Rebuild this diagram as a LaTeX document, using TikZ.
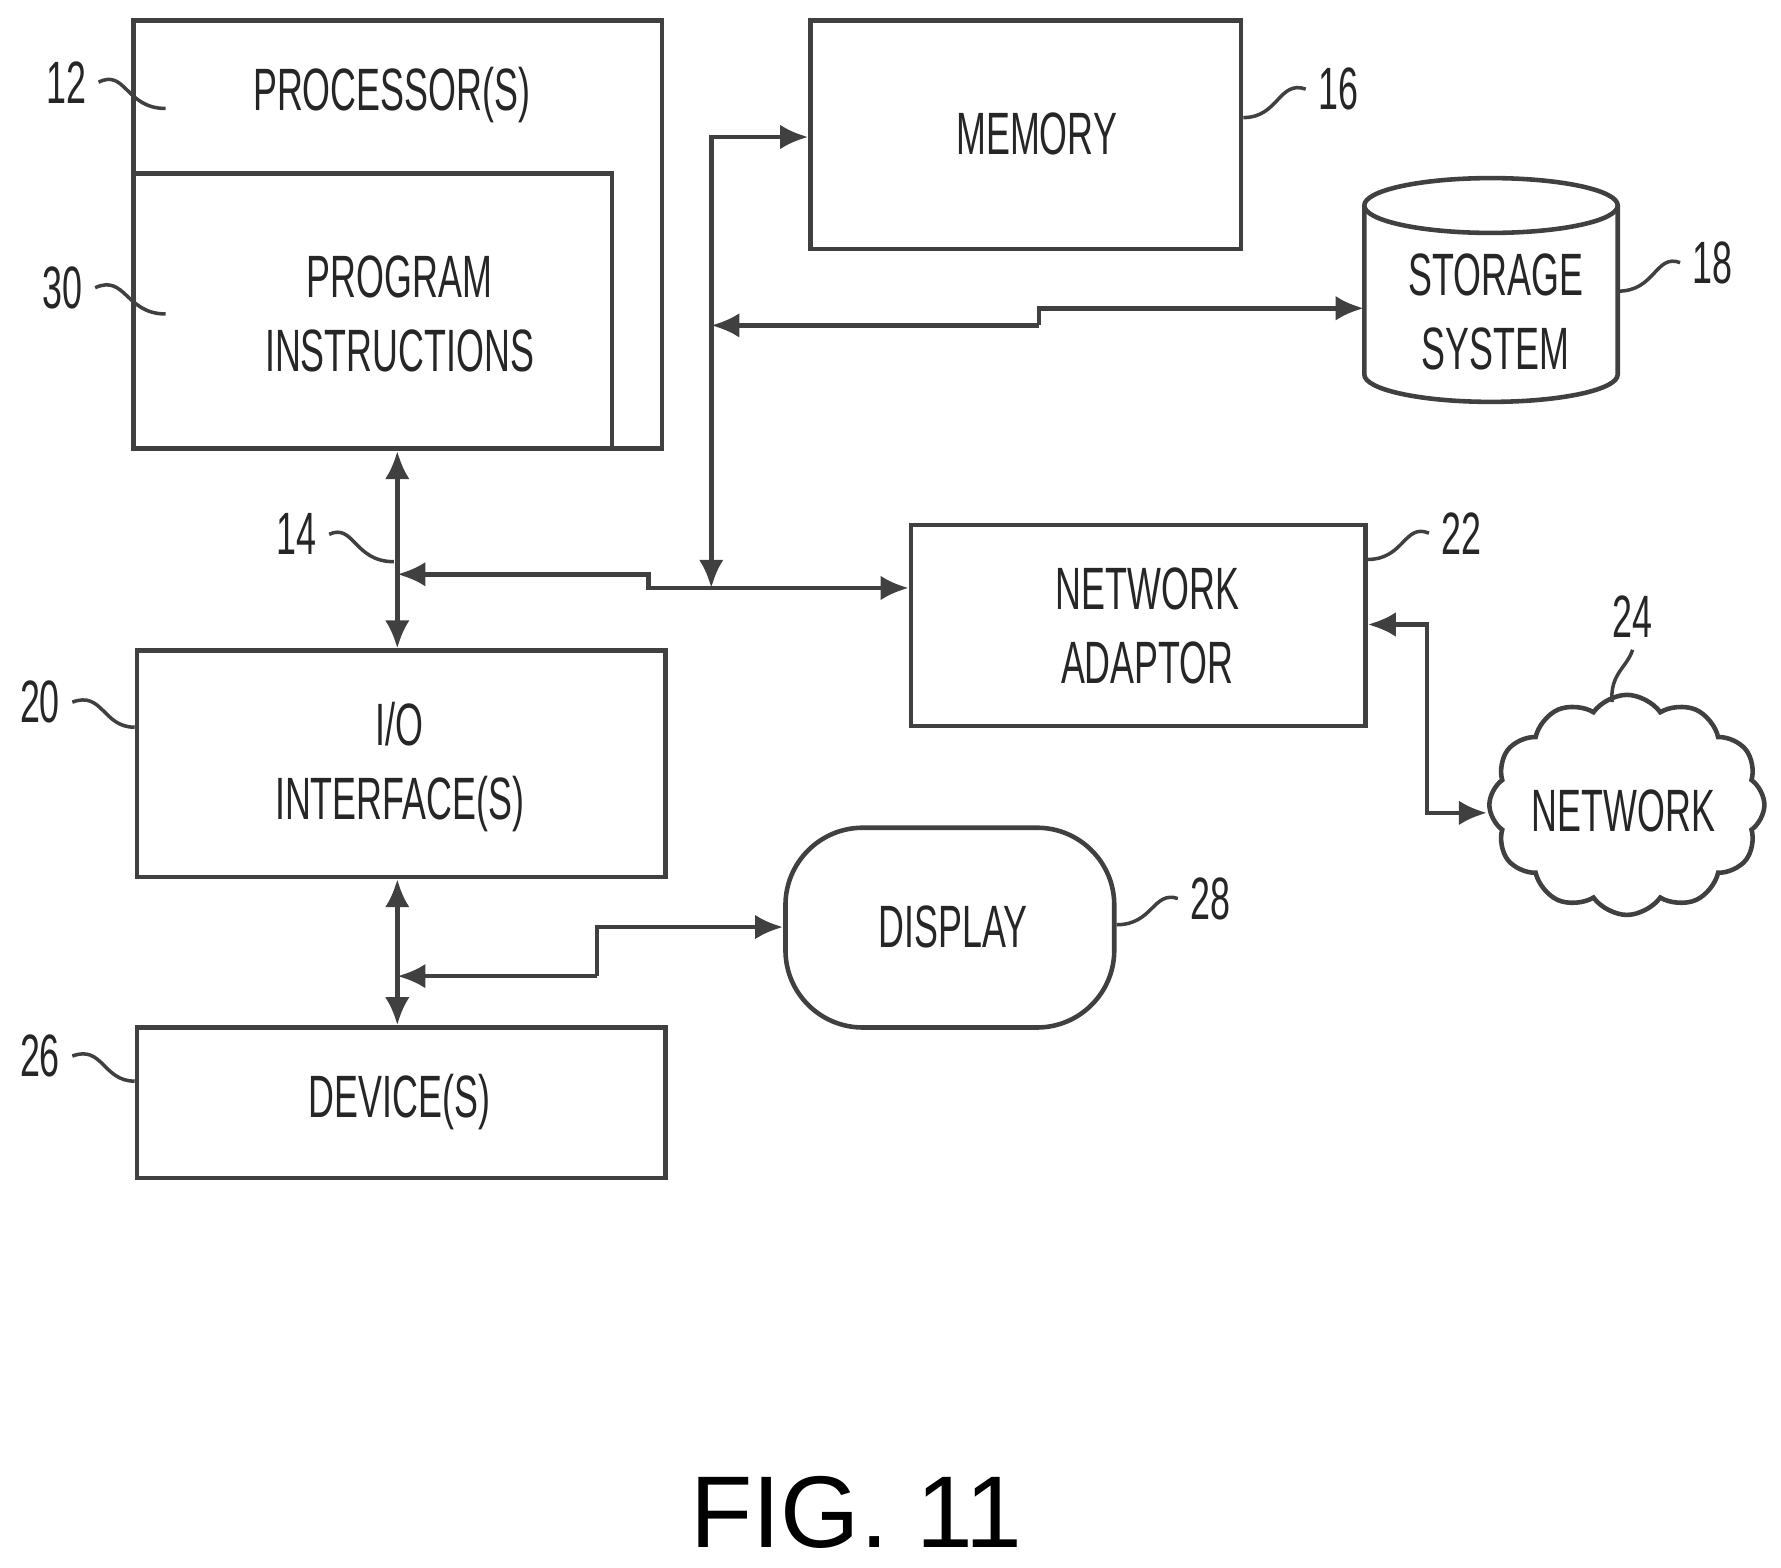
\documentclass[tikz,border=0pt]{standalone}
\usepackage{fontspec}
\setmainfont[FakeStretch=0.6]{Liberation Sans}
\newfontfamily\figfont{Liberation Sans}
\usetikzlibrary{fit,shapes.symbols,arrows.meta}

\tikzset{
  line/.style={draw=black!75, line width=1.3pt},
  box/.style={line, rectangle, inner sep=0pt},
  txt/.style={font=\fontsize{17}{21}\selectfont, align=center, text=black!85},
  num/.style={font=\fontsize{17}{21}\selectfont, text=black!85},
  bus/.style={line, {Latex[length=8pt,width=7pt]}-{Latex[length=8pt,width=7pt]}},
  toarr/.style={line, -{Latex[length=8pt,width=7pt]}},
  lead/.style={draw=black!75, line width=1pt},
}

\begin{document}
\begin{tikzpicture}[x=0.011417cm, y=-0.011417cm]
	\useasboundingbox (0,0) rectangle (1560,1373);
	% blocks
	\node[box, fit={(117,18) (580,393)}] (proc) {};
	\node[box, fit={(117,152) (536,393)}] (prog) {};
	\node[box, fit={(710,18) (1087,218)}] (mem) {};
	\node[box, fit={(798,460) (1196,636)}] (net) {};
	\node[box, fit={(120,570) (583,768)}] (io) {};
	\node[box, fit={(120,900) (583,1032)}] (dev) {};
	\node[box, fit={(688,725) (976,900)}, rounded corners=22pt] (disp) {};
	% storage drum
	\draw[line] (1195,180) -- (1195,328) arc[start angle=180, end angle=360, x radius=111, y radius=-24]
	  -- (1417,180);
	\draw[line] (1306,180) ellipse[x radius=111, y radius=24];
	\node[inner sep=0pt, minimum width=2.53cm, minimum height=1.9cm] (stor) at (1306,265) {};
	\node[line, cloud, cloud puffs=12, cloud puff arc=110, aspect=1.25,
	  minimum width=2.75cm, minimum height=2.2cm] (cloud) at (1425,705) {};
	% texts
	\node[txt] (tproc) at (343,83) {PROCESSOR(S)};
	\node[txt] (tprog) at (350,275) {PROGRAM\\ INSTRUCTIONS};
	\node[txt] (tmem) at (908,117) {MEMORY};
	\node[txt] (tstor) at (1310,273) {STORAGE\\ SYSTEM};
	\node[txt] (tnet) at (1005,548) {NETWORK\\ ADAPTOR};
	\node[txt] (tcloud) at (1422,710) {NETWORK};
	\node[txt] (tio) at (350,672) {I/O\\ INTERFACE(S)};
	\node[txt] (tdev) at (350,965) {DEVICE(S)};
	\node[txt] (tdisp) at (835,812) {DISPLAY};
	\node[font=\figfont\fontsize{29}{34}\selectfont] (fig) at (750,1325) {FIG. 11};
	% reference numerals
	\node[num] (n12) at (58,72) {12};
	\node[num] (n30) at (55,252) {30};
	\node[num] (n14) at (260,468) {14};
	\node[num] (n20) at (35,615) {20};
	\node[num] (n26) at (35,925) {26};
	\node[num] (n16) at (1172,78) {16};
	\node[num] (n18) at (1500,230) {18};
	\node[num] (n22) at (1280,467) {22};
	\node[num] (n24) at (1430,540) {24};
	\node[num] (n28) at (1060,787) {28};
	\coordinate (p12) at (145,95);
	\coordinate (p30) at (145,275);
	\coordinate (p14) at (345,492);
	\draw[lead] (n12.east) .. controls (110,60) and (110,95) .. (p12);
	\draw[lead] (n30.east) .. controls (110,240) and (110,275) .. (p30);
	\draw[lead] (n14.east) .. controls (310,458) and (310,492) .. (p14);
	\draw[lead] (n20.east) .. controls (90,605) and (90,637) .. (io.west|-0,637);
	\draw[lead] (n26.east) .. controls (90,915) and (90,947) .. (dev.west|-0,947);
	\draw[lead] (mem.east|-0,103) .. controls (1120,103) and (1120,70) .. (n16.west);
	\draw[lead] (stor.east|-0,255) .. controls (1450,255) and (1450,222) .. (n18.west);
	\draw[lead] (net.east|-0,490) .. controls (1230,490) and (1230,458) .. (n22.west);
	\draw[lead] (disp.east|-0,810) .. controls (1010,810) and (1010,780) .. (n28.west);
	\draw[lead] (n24.south) .. controls (1425,585) and (1410,590) .. (1412,615);
	% buses
	\coordinate (b1) at (348,503);
	\coordinate (b2) at (623,120);
	\coordinate (b3) at (623,515);
	\coordinate (b4) at (623,285);
	\coordinate (b5) at (348,855);
	\draw[bus] (proc.south-|b1) -- (io.north-|b1);
	\draw[toarr] (b3) -| (568,503) -- (b1);
	\draw[toarr] (b3) -- (net.west|-b3);
	\draw[bus] (mem.west|-b2) -- (b2) -- (b3);
	\draw[toarr] (910,285) -- (b4);
	\draw[toarr] (910,285) |- (stor.west|-0,270);
	\draw[bus] (net.east|-0,547) -| (1250,712) -- (cloud.west|-0,712);
	\draw[bus] (io.south-|b5) -- (dev.north-|b5);
	\draw[toarr] (523,855) -- (b5);
	\draw[toarr] (523,855) |- (disp.west|-0,812);
\end{tikzpicture}
\end{document}
